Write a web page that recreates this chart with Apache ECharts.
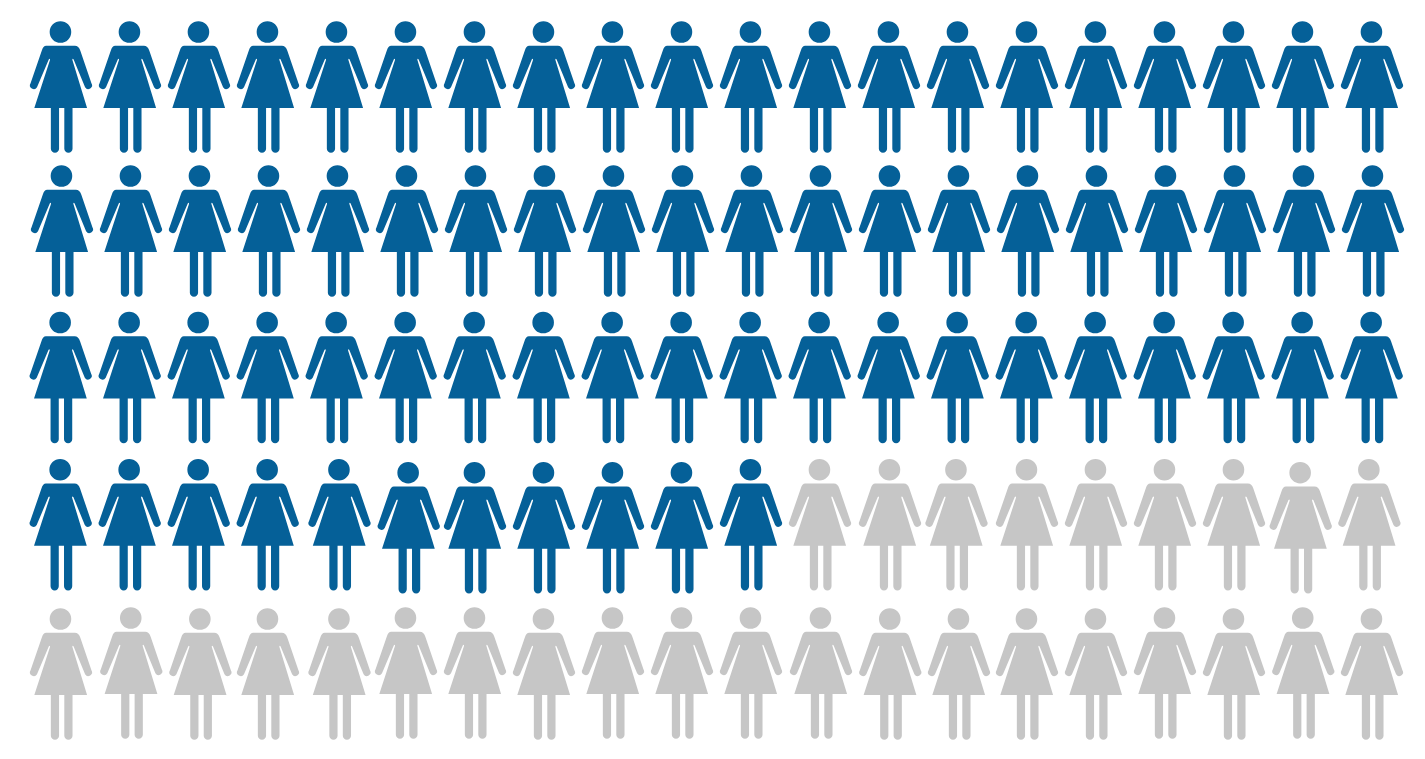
<!DOCTYPE html>
<html>
<head>
<meta charset="utf-8">
<style>html,body{margin:0;padding:0;background:#fff}#c{width:1425px;height:759px}</style>
<script src="https://cdn.jsdelivr.net/npm/echarts@6/dist/echarts.min.js"></script>
</head>
<body>
<div id="c"></div>
<script>
const filledCount = 71;
const row1X = [61,130,199,268,337,406,475,544,613,682,751,820,889,958,1027,1096,1165,1234,1303,1372];
const row2X = [62,131,200,269,338,407,476,545,614,683,752,821,890,959,1028,1097,1166,1235,1304,1373];
const row3X = [60.7,129.7,198.7,267.7,336.7,405.7,474.7,543.7,612.7,681.7,750.7,819.7,888.7,957.7,1026.7,1095.7,1164.7,1233.7,1302.7,1371.7];
const row4X = [60.7,129.7,198.7,267.7,339.5,408.7,475,544,613,682,751,820,890,956.5,1027,1096,1165,1234,1300.7,1369.4];
const row5X = [61,131.3,200.4,268,339.5,406,475,544,613,682,751,821,890.3,959,1027,1096,1165,1234,1303.3,1372];
const row1Y = [87,87,87,87,87,87,87,87,87,87,87,87,87,87,87,87,87,87,87,87];
const row2Y = [231,231,231,231,231,231,231,231,231,231,231,231,231,231,231,231,231,231,231,231];
const row3Y = [377.5,377.5,377.5,377.5,377.5,377.5,377.5,377.5,377.5,377.5,377.5,377.5,377.5,377.5,377.5,377.5,377.5,377.5,377.5,377.5];
const row4Y = [524.7,524.7,524.7,524.7,524.7,527.7,527.7,527.7,527.7,527.7,524.7,524.7,524.7,524.7,524.7,524.7,524.7,524.7,527.7,524.7];
const row5Y = [674,673,674,674,674,673,673,674,673,673,673,673,674,674,674,674,673,674,673,674];
const rowsX = [row1X,row2X,row3X,row4X,row5X];
const rowsY = [row1Y,row2Y,row3Y,row4Y,row5Y];
const woman = 'path://M30.4 0A10.9 10.8 0 1 1 30.4 21.6A10.9 10.8 0 1 1 30.4 0Z'
 + 'M16 24.5L45 24.5Q48.8 24.5 50.5 29.5L61.7 62A3.7 3.7 0 0 1 55.3 66L43.7 38.2Q42.6 36.8 42.4 38.6L57.3 86.8L4 86.8L19.9 38.6Q19.7 36.8 18.6 38.2L6.7 66A3.7 3.7 0 0 1 0.2 62L11.5 29.5Q13 24.5 16 24.5Z'
 + 'M20.7 86L29 86L29 127.4A4.15 4.15 0 0 1 20.7 127.4Z'
 + 'M34.3 86L42.6 86L42.6 127.4A4.15 4.15 0 0 1 34.3 127.4Z';
const all = [];
rowsX.forEach((xs,r)=>xs.forEach((x,c)=>all.push([x,rowsY[r][c]])));
const chart = echarts.init(document.getElementById('c'),null,{renderer:'canvas'});
const base = {type:'scatter',symbol:woman,symbolSize:[62,131.6],symbolKeepAspect:false,silent:true};
chart.setOption({
  animation:false,
  backgroundColor:'#ffffff',
  grid:{left:0,right:0,top:0,bottom:0},
  xAxis:{type:'value',min:0,max:1425,show:false},
  yAxis:{type:'value',min:0,max:759,inverse:true,show:false},
  series:[
    Object.assign({},base,{name:'filled',data:all.slice(0,filledCount),itemStyle:{color:'#056098',opacity:1}}),
    Object.assign({},base,{name:'empty',data:all.slice(filledCount),itemStyle:{color:'#c6c6c6',opacity:1}})
  ]
});
</script>
</body>
</html>
